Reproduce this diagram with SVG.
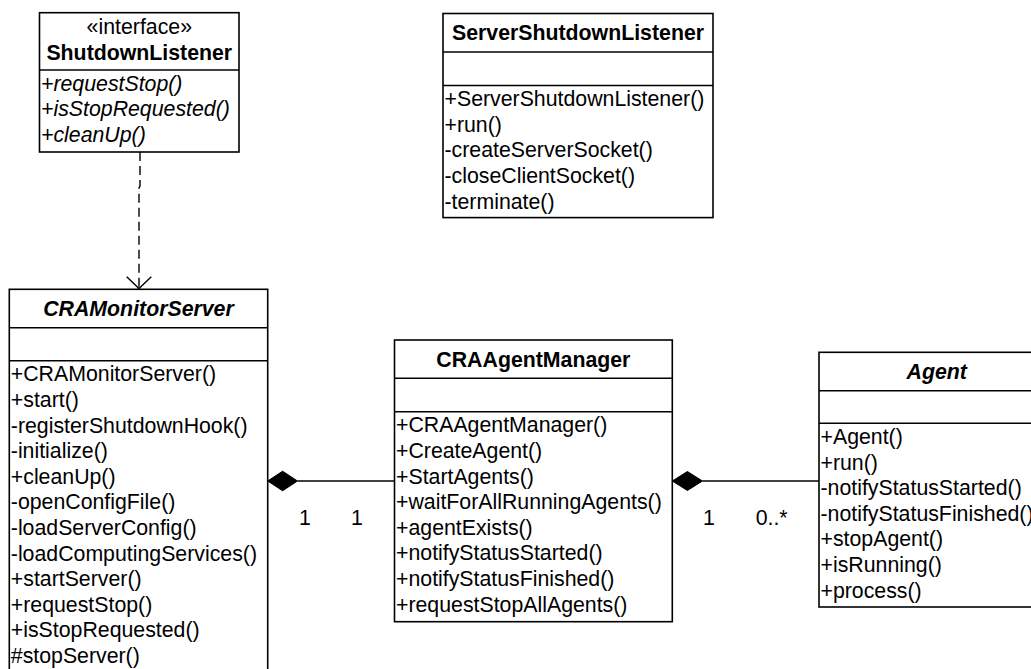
<svg xmlns="http://www.w3.org/2000/svg" width="1031" height="669" viewBox="0 0 1031 669">
  <style>
    .box { fill: #ffffff; stroke: #000000; stroke-width: 1.6; }
    .sep { stroke: #000000; stroke-width: 1.6; fill: none; }
    text { font-family: "Liberation Sans", Arial, sans-serif; font-size: 21.3px; fill: #000000; }
    .title { font-weight: bold; text-anchor: middle; }
    .abstract { font-weight: bold; font-style: italic; text-anchor: middle; }
    .stereo { text-anchor: middle; }
    .op-abstract { font-style: italic; }
    .link { stroke: #000000; stroke-width: 1.4; fill: none; }
    .dep { stroke: #000000; stroke-width: 1.4; fill: none; stroke-dasharray: 9 5; }
    .diamond { fill: #000000; stroke: #000000; stroke-width: 1; }
  </style>

  <!-- interface ShutdownListener -->
  <g id="ShutdownListener">
    <rect class="box" x="39.5" y="12.7" width="199.5" height="139.3"/>
    <line class="sep" x1="39.5" y1="70" x2="239" y2="70"/>
    <text class="stereo" x="139.3" y="34">«interface»</text>
    <text class="title" x="139.3" y="60">ShutdownListener</text>
    <text class="op-abstract" x="41" y="90.7">+requestStop()</text>
    <text class="op-abstract" x="41" y="116.3">+isStopRequested()</text>
    <text class="op-abstract" x="41" y="141.9">+cleanUp()</text>
  </g>

  <!-- ServerShutdownListener -->
  <g id="ServerShutdownListener">
    <rect class="box" x="443" y="13.5" width="270" height="204.1"/>
    <line class="sep" x1="443" y1="52" x2="713" y2="52"/>
    <line class="sep" x1="443" y1="85.5" x2="713" y2="85.5"/>
    <text class="title" x="578" y="40.3">ServerShutdownListener</text>
    <text x="444.5" y="106.2">+ServerShutdownListener()</text>
    <text x="444.5" y="131.8">+run()</text>
    <text x="444.5" y="157.4">-createServerSocket()</text>
    <text x="444.5" y="183">-closeClientSocket()</text>
    <text x="444.5" y="208.6">-terminate()</text>
  </g>

  <!-- abstract CRAMonitorServer -->
  <g id="CRAMonitorServer">
    <rect class="box" x="9.3" y="289.3" width="258.4" height="400"/>
    <line class="sep" x1="9.3" y1="327.7" x2="267.7" y2="327.7"/>
    <line class="sep" x1="9.3" y1="360.7" x2="267.7" y2="360.7"/>
    <text class="abstract" x="138.5" y="316">CRAMonitorServer</text>
    <text x="10.8" y="381.4">+CRAMonitorServer()</text>
    <text x="10.8" y="407">+start()</text>
    <text x="10.8" y="432.6">-registerShutdownHook()</text>
    <text x="10.8" y="458.2">-initialize()</text>
    <text x="10.8" y="483.8">+cleanUp()</text>
    <text x="10.8" y="509.4">-openConfigFile()</text>
    <text x="10.8" y="535">-loadServerConfig()</text>
    <text x="10.8" y="560.6">-loadComputingServices()</text>
    <text x="10.8" y="586.2">+startServer()</text>
    <text x="10.8" y="611.8">+requestStop()</text>
    <text x="10.8" y="637.4">+isStopRequested()</text>
    <text x="10.8" y="663">#stopServer()</text>
  </g>

  <!-- CRAAgentManager -->
  <g id="CRAAgentManager">
    <rect class="box" x="394.5" y="340" width="277.8" height="281.7"/>
    <line class="sep" x1="394.5" y1="378.3" x2="672.3" y2="378.3"/>
    <line class="sep" x1="394.5" y1="411.7" x2="672.3" y2="411.7"/>
    <text class="title" x="533.4" y="366.7">CRAAgentManager</text>
    <text x="396" y="432.4">+CRAAgentManager()</text>
    <text x="396" y="458">+CreateAgent()</text>
    <text x="396" y="483.6">+StartAgents()</text>
    <text x="396" y="509.2">+waitForAllRunningAgents()</text>
    <text x="396" y="534.8">+agentExists()</text>
    <text x="396" y="560.4">+notifyStatusStarted()</text>
    <text x="396" y="586">+notifyStatusFinished()</text>
    <text x="396" y="611.6">+requestStopAllAgents()</text>
  </g>

  <!-- abstract Agent -->
  <g id="Agent">
    <rect class="box" x="819" y="352.3" width="235.4" height="254.7"/>
    <line class="sep" x1="819" y1="390.7" x2="1054.4" y2="390.7"/>
    <line class="sep" x1="819" y1="423.3" x2="1054.4" y2="423.3"/>
    <text class="abstract" x="936.7" y="379">Agent</text>
    <text x="820.5" y="444">+Agent()</text>
    <text x="820.5" y="469.6">+run()</text>
    <text x="820.5" y="495.2">-notifyStatusStarted()</text>
    <text x="820.5" y="520.8">-notifyStatusFinished()</text>
    <text x="820.5" y="546.4">+stopAgent()</text>
    <text x="820.5" y="572">+isRunning()</text>
    <text x="820.5" y="597.6">+process()</text>
  </g>

  <!-- relationships -->
  <g id="connectors">
    <!-- CRAMonitorServer realizes ShutdownListener -->
    <path class="dep" d="M140,152 V186 L139,188 V288"/>
    <path class="link" d="M126.7,276.7 L139,288.5 L151.3,276.7"/>

    <!-- CRAMonitorServer owns CRAAgentManager -->
    <line class="link" x1="297.5" y1="481" x2="394.5" y2="481"/>
    <polygon class="diamond" points="267.7,481 282.6,471.2 297.5,481 282.6,490.8"/>
    <text x="299" y="525">1</text>
    <text x="351" y="525">1</text>

    <!-- CRAAgentManager owns Agents -->
    <line class="link" x1="702.5" y1="481" x2="819" y2="481"/>
    <polygon class="diamond" points="672.3,481 687.4,471.5 702.5,481 687.4,490.5"/>
    <text x="703" y="525">1</text>
    <text x="755.7" y="525">0..*</text>
  </g>
</svg>
